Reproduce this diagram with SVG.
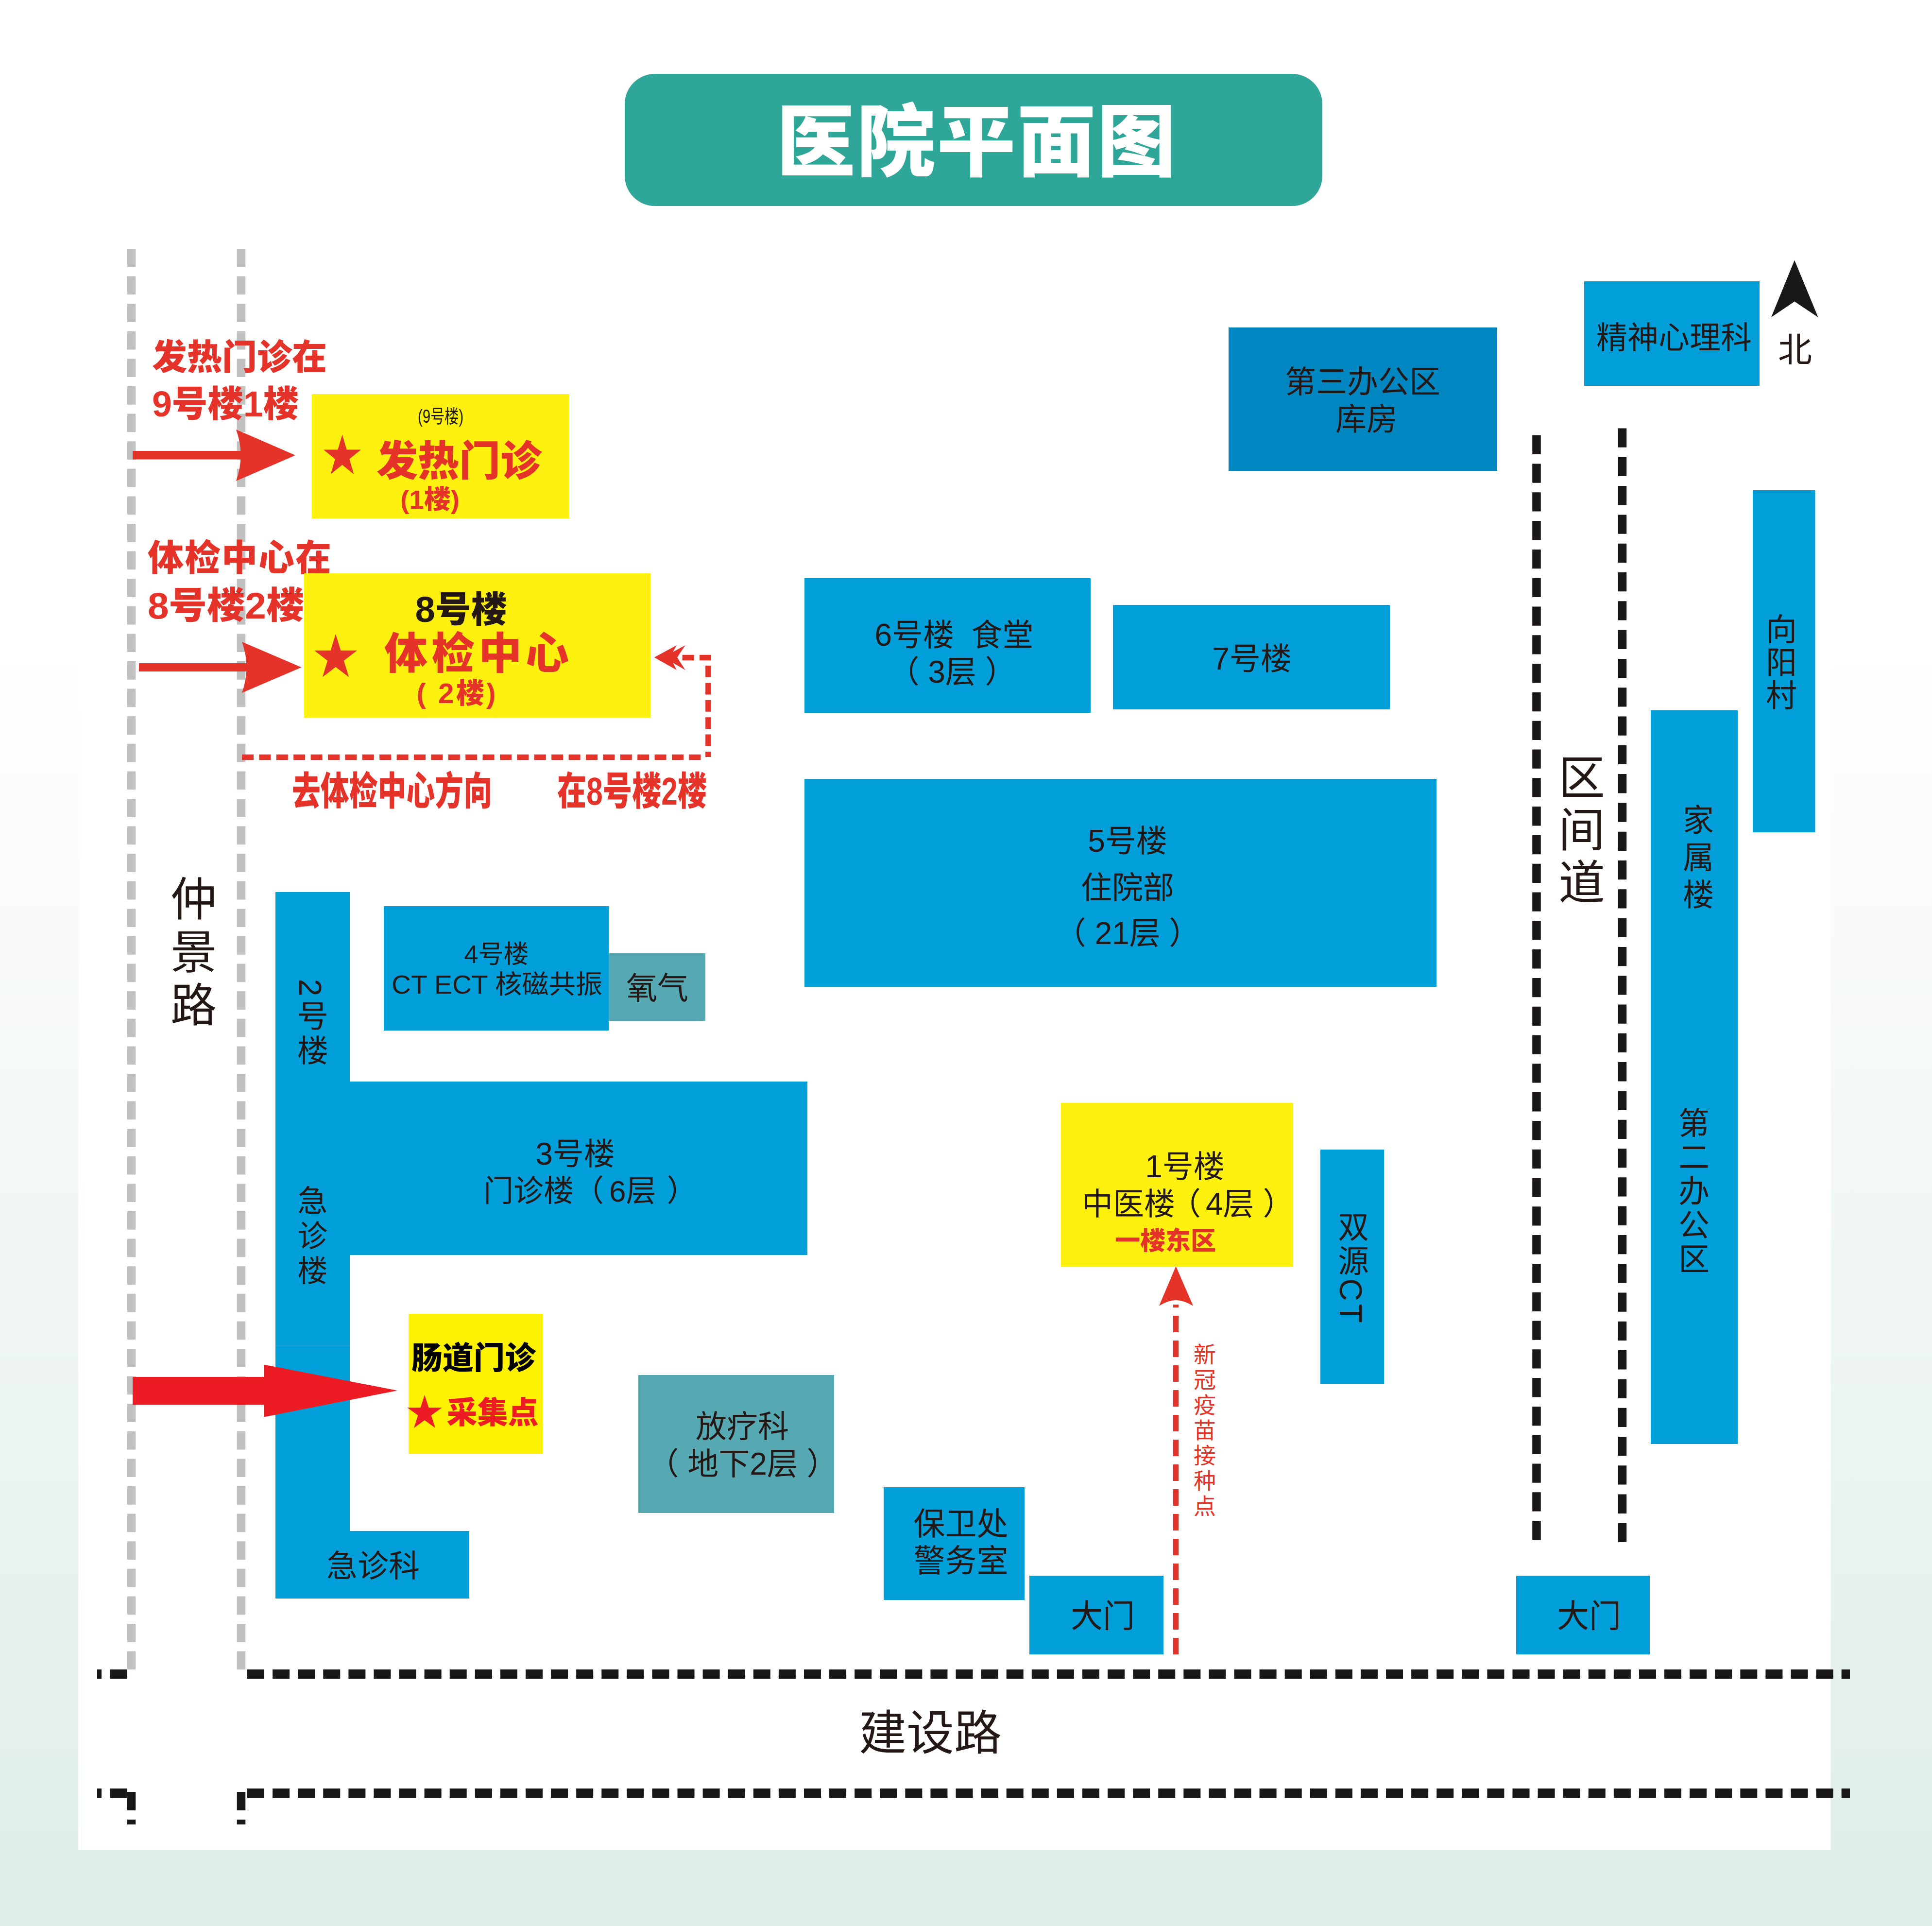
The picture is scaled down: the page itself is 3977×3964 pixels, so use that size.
<svg xmlns="http://www.w3.org/2000/svg" width="3977" height="3964" viewBox="0 0 3977 3964">
  <style>
    text { font-family: "Liberation Sans", "Noto Sans CJK SC", sans-serif; fill: #231815; }
    .c { text-anchor: middle; }
    .l { font-size: 64px; }
    .v { writing-mode: vertical-rl; text-anchor: middle; }
    .b { font-weight: 900; }
    .r { fill: #e6332a; }
    .blue { fill: #009fd9; }
    .teal { fill: #56a9b2; }
    .yel { fill: #fff10f; }
    .gray { fill: none; stroke: #c0c0c0; stroke-width: 17.5; stroke-dasharray: 37.7 18.9; }
    .road { fill: none; stroke: #1a1718; stroke-width: 19; stroke-dasharray: 35 17.09; }
    .lane { fill: none; stroke: #1a1718; stroke-width: 17.5; }
    .route { fill: none; stroke: #e6332a; stroke-width: 11.7; stroke-dasharray: 24 11.4; }
  </style>
  <defs>
    <linearGradient id="bg" gradientUnits="userSpaceOnUse" x1="0" y1="0" x2="0" y2="3964">
      <stop offset="0.33" stop-color="#ffffff"/>
      <stop offset="0.7" stop-color="#eef5f3"/>
      <stop offset="1" stop-color="#ddede9"/>
    </linearGradient>
    <polygon id="star" points="0,-100 22.45,-30.9 95.1,-30.9 36.3,11.8 58.8,80.9 0,38.2 -58.8,80.9 -36.3,11.8 -95.1,-30.9 -22.45,-30.9"/>
  </defs>

  <g id="background">
    <rect width="3977" height="3964" fill="url(#bg)"/>
    <rect x="161" y="0" width="3607.5" height="3808" fill="#ffffff"/>
  </g>

  <g id="title">
    <rect x="1286" y="152" width="1436" height="272" rx="62" fill="#2ea698"/>
    <text class="c b" x="2011" y="350" font-size="162" letter-spacing="3" style="fill:#fff">医院平面图</text>
  </g>

  <!-- roads and lanes -->
  <g id="roads">
    <path class="gray" d="M270.5 512V3436"/>
    <path class="gray" d="M496.5 512V3436"/>
    <path class="road" d="M509 3445.5H3808"/>
    <path class="road" d="M509 3690.5H3808"/>
    <path class="road" d="M226.5 3445.5H261.5" style="stroke-dasharray:none"/>
    <path class="road" d="M200 3445.5H209" style="stroke-dasharray:none"/>
    <path class="road" d="M226.5 3690.5H261.5" style="stroke-dasharray:none"/>
    <path class="road" d="M200 3690.5H209" style="stroke-dasharray:none"/>
    <path d="M270.5 3688V3726M270.5 3745V3755M496.5 3688V3726M496.5 3745V3755" fill="none" stroke="#1a1718" stroke-width="17.5"/>
    <path class="lane" stroke-dasharray="39.3 19.5" d="M3163 895.7V3170"/>
    <path class="lane" stroke-dasharray="39.3 20" d="M3339.5 881.5V3174"/>
  </g>

  <g id="road-labels">
    <text class="v" x="390" y="1965" font-size="95" letter-spacing="14">仲景路</text>
    <text class="v" x="3248" y="1712" font-size="96" letter-spacing="12">区间道</text>
    <text class="c" x="1915" y="3601" font-size="98">建设路</text>
  </g>

  <g id="side-notes">
    <text class="r b" x="313" y="760" font-size="72">发热门诊在</text>
    <text class="r b" x="313" y="857" font-size="74" textLength="302" lengthAdjust="spacingAndGlyphs">9号楼1楼</text>
    <text class="r b" x="304" y="1174" font-size="74" letter-spacing="2">体检中心在</text>
    <text class="r b" x="304" y="1273" font-size="76" textLength="322" lengthAdjust="spacingAndGlyphs">8号楼2楼</text>
    <text class="r b" x="601" y="1656" font-size="80" textLength="412" lengthAdjust="spacingAndGlyphs">去体检中心方向</text>
    <text class="r b" x="1147" y="1656" font-size="80" textLength="308" lengthAdjust="spacingAndGlyphs">在8号楼2楼</text>
  </g>

  <g id="b9-fever">
    <rect class="yel" x="642" y="811" width="529.5" height="256"/>
    <text class="c" x="907" y="870" font-size="38" textLength="94" lengthAdjust="spacingAndGlyphs">(9号楼)</text>
    <use href="#star" class="r" transform="translate(704.5 939.5) scale(.405 .45)"/>
    <text class="c r b" x="945" y="979" font-size="85">发热门诊</text>
    <text class="c r b" x="885" y="1047" font-size="54" textLength="122" lengthAdjust="spacingAndGlyphs">(1楼)</text>
  </g>

  <g id="b8-checkup">
    <rect class="yel" x="626" y="1180" width="713.5" height="297.5"/>
    <text class="c b" x="949" y="1280" font-size="74">8号楼</text>
    <use href="#star" class="r" transform="translate(691 1354) scale(.4626 .492)"/>
    <text class="c r b" x="985" y="1376" font-size="89" letter-spacing="8">体检中心</text>
    <text class="c r b" x="939" y="1447" font-size="58" xml:space="preserve" textLength="163" lengthAdjust="spacing">( 2楼)</text>
  </g>

  <g id="b6"><rect class="blue" x="1656" y="1190" width="589" height="277"/>
    <text class="c l" x="1964" y="1329" xml:space="preserve">6号楼  食堂</text>
    <text class="c l" x="1960" y="1405">（ 3层 ）</text></g>
  <g id="b7"><rect class="blue" x="2291" y="1245" width="570" height="215"/>
    <text class="c l" x="2577" y="1378">7号楼</text></g>
  <g id="b5"><rect class="blue" x="1656" y="1603" width="1301" height="428"/>
    <text class="c l" x="2321" y="1753">5号楼</text>
    <text class="c l" x="2321" y="1849">住院部</text>
    <text class="c l" x="2321" y="1943">（ 21层 ）</text></g>
  <g id="office3"><rect x="2529" y="674" width="553" height="295" fill="#0087c1"/>
    <text class="c l" x="2805" y="808">第三办公区</text>
    <text class="c l" x="2813" y="885">库房</text></g>
  <g id="psych"><rect class="blue" x="3261" y="579" width="361" height="215"/>
    <text class="c" x="3446" y="717" font-size="64">精神心理科</text></g>
  <g id="north">
    <polygon points="3694,535.6 3742.6,653 3694,620.5 3646,653" fill="#1a1718"/>
    <text class="c" x="3695" y="745" font-size="70">北</text></g>
  <g id="xiangyang"><rect class="blue" x="3608" y="1009" width="128.5" height="704"/>
    <text class="v l" x="3661" y="1364" letter-spacing="4">向阳村</text></g>
  <g id="family"><rect class="blue" x="3398" y="1461.5" width="179" height="1510.5"/>
    <text class="v l" x="3490" y="1769" letter-spacing="13">家属楼</text>
    <text class="v l" x="3481" y="2453" letter-spacing="6">第二办公区</text></g>

  <g id="b2"><rect class="blue" x="567" y="1836" width="153" height="1315"/>
    <rect x="567" y="2768" width="153" height="1" fill="#2aa9dd"/>
    <text class="v" x="638" y="2107" font-size="64" letter-spacing="7">2号楼</text>
    <text class="v" x="638" y="2547" font-size="62" letter-spacing="10">急诊楼</text></g>
  <g id="b4"><rect class="blue" x="790" y="1865" width="463" height="256"/>
    <text class="c" x="1022" y="1982" font-size="52">4号楼</text>
    <text class="c" x="1023" y="2045" font-size="54" textLength="434" lengthAdjust="spacingAndGlyphs">CT ECT 核磁共振</text></g>
  <g id="oxygen"><rect class="teal" x="1253" y="1962" width="199" height="139"/>
    <text class="c" x="1353" y="2056" font-size="64">氧气</text></g>
  <g id="b3"><rect class="blue" x="720" y="2226" width="942" height="357"/>
    <text class="c l" x="1184" y="2397">3号楼</text>
    <text x="995" y="2473" font-size="62">门诊楼（<tspan dx="11">6层</tspan><tspan dx="22">）</tspan></text></g>
  <g id="emergency"><rect class="blue" x="567" y="3151" width="399" height="139"/>
    <text class="c" x="768" y="3245" font-size="64">急诊科</text></g>
  <g id="gut"><rect x="841" y="2704" width="276" height="288" fill="#fff200"/>
    <text class="c b" x="975" y="2817" font-size="64" style="fill:#000">肠道门诊</text>
    <use href="#star" fill="#ed1c24" transform="translate(874 2908.6) scale(.375 .376)"/>
    <text class="c b" x="1014" y="2929" font-size="63" style="fill:#ed1c24">采集点</text></g>
  <g id="radio"><rect class="teal" x="1314" y="2830" width="403" height="284"/>
    <text class="c l" x="1528" y="2958">放疗科</text>
    <text class="c l" x="1529" y="3035">（ 地下2层 ）</text></g>
  <g id="security"><rect class="blue" x="1819" y="3061" width="290" height="232"/>
    <text class="c" x="1978" y="3159" font-size="65">保卫处</text>
    <text class="c" x="1978" y="3235" font-size="65">警务室</text></g>
  <g id="gate-west"><rect class="blue" x="2119" y="3243" width="276" height="162"/>
    <text class="c" x="2270" y="3349" font-size="66">大门</text></g>
  <g id="gate-east"><rect class="blue" x="3121" y="3243" width="275" height="162"/>
    <text class="c" x="3271" y="3349" font-size="66">大门</text></g>
  <g id="b1"><rect class="yel" x="2184" y="2270" width="478" height="337"/>
    <text class="c l" x="2439" y="2423">1号楼</text>
    <text x="2227" y="2500" font-size="64">中医楼<tspan dx="-11">（</tspan><tspan dx="10">4层</tspan><tspan dx="18">）</tspan></text>
    <text class="c r b" x="2399" y="2572" font-size="52">一楼东区</text></g>
  <g id="dual-ct"><rect class="blue" x="2718" y="2366" width="131" height="482"/>
    <text class="v" x="2780" y="2610" font-size="64" letter-spacing="6">双源CT</text></g>

  <!-- arrows and walking routes -->
  <g id="connectors">
    <path class="r" d="M273 928H505V945.5H273Z"/>
    <path class="r" d="M486 884L608 937L486 990Q505 937 486 884Z"/>
    <path class="r" d="M286 1365H515V1382H286Z"/>
    <path class="r" d="M498 1321L620.6 1373.5L498 1426Q517 1373.5 498 1321Z"/>
    <path class="route" d="M498 1558.5H1443.5"/>
    <path class="route" d="M1458 1558V1370" style="stroke-dashoffset:13"/>
    <path class="route" d="M1464 1353.5H1404"/>
    <path class="r" d="M1346.7 1353L1393 1328L1385 1342L1410.7 1328L1394 1353L1410.7 1379L1385 1364L1393 1379Z"/>
    <path d="M273 2834H543V2808.5L818 2862L543 2916.6V2891H273Z" fill="#ed1c24"/>
    <path d="M2420.5 3405V2685" fill="none" stroke="#e6332a" stroke-width="11.5" stroke-dasharray="34 17"/>
    <path class="r" d="M2420.6 2606L2456 2687.5Q2436 2676 2420.6 2676Q2405 2676 2386 2687.5Z"/>
    <text class="v r" x="2476" y="2946" font-size="46" letter-spacing="6">新冠疫苗接种点</text>
  </g>
</svg>
